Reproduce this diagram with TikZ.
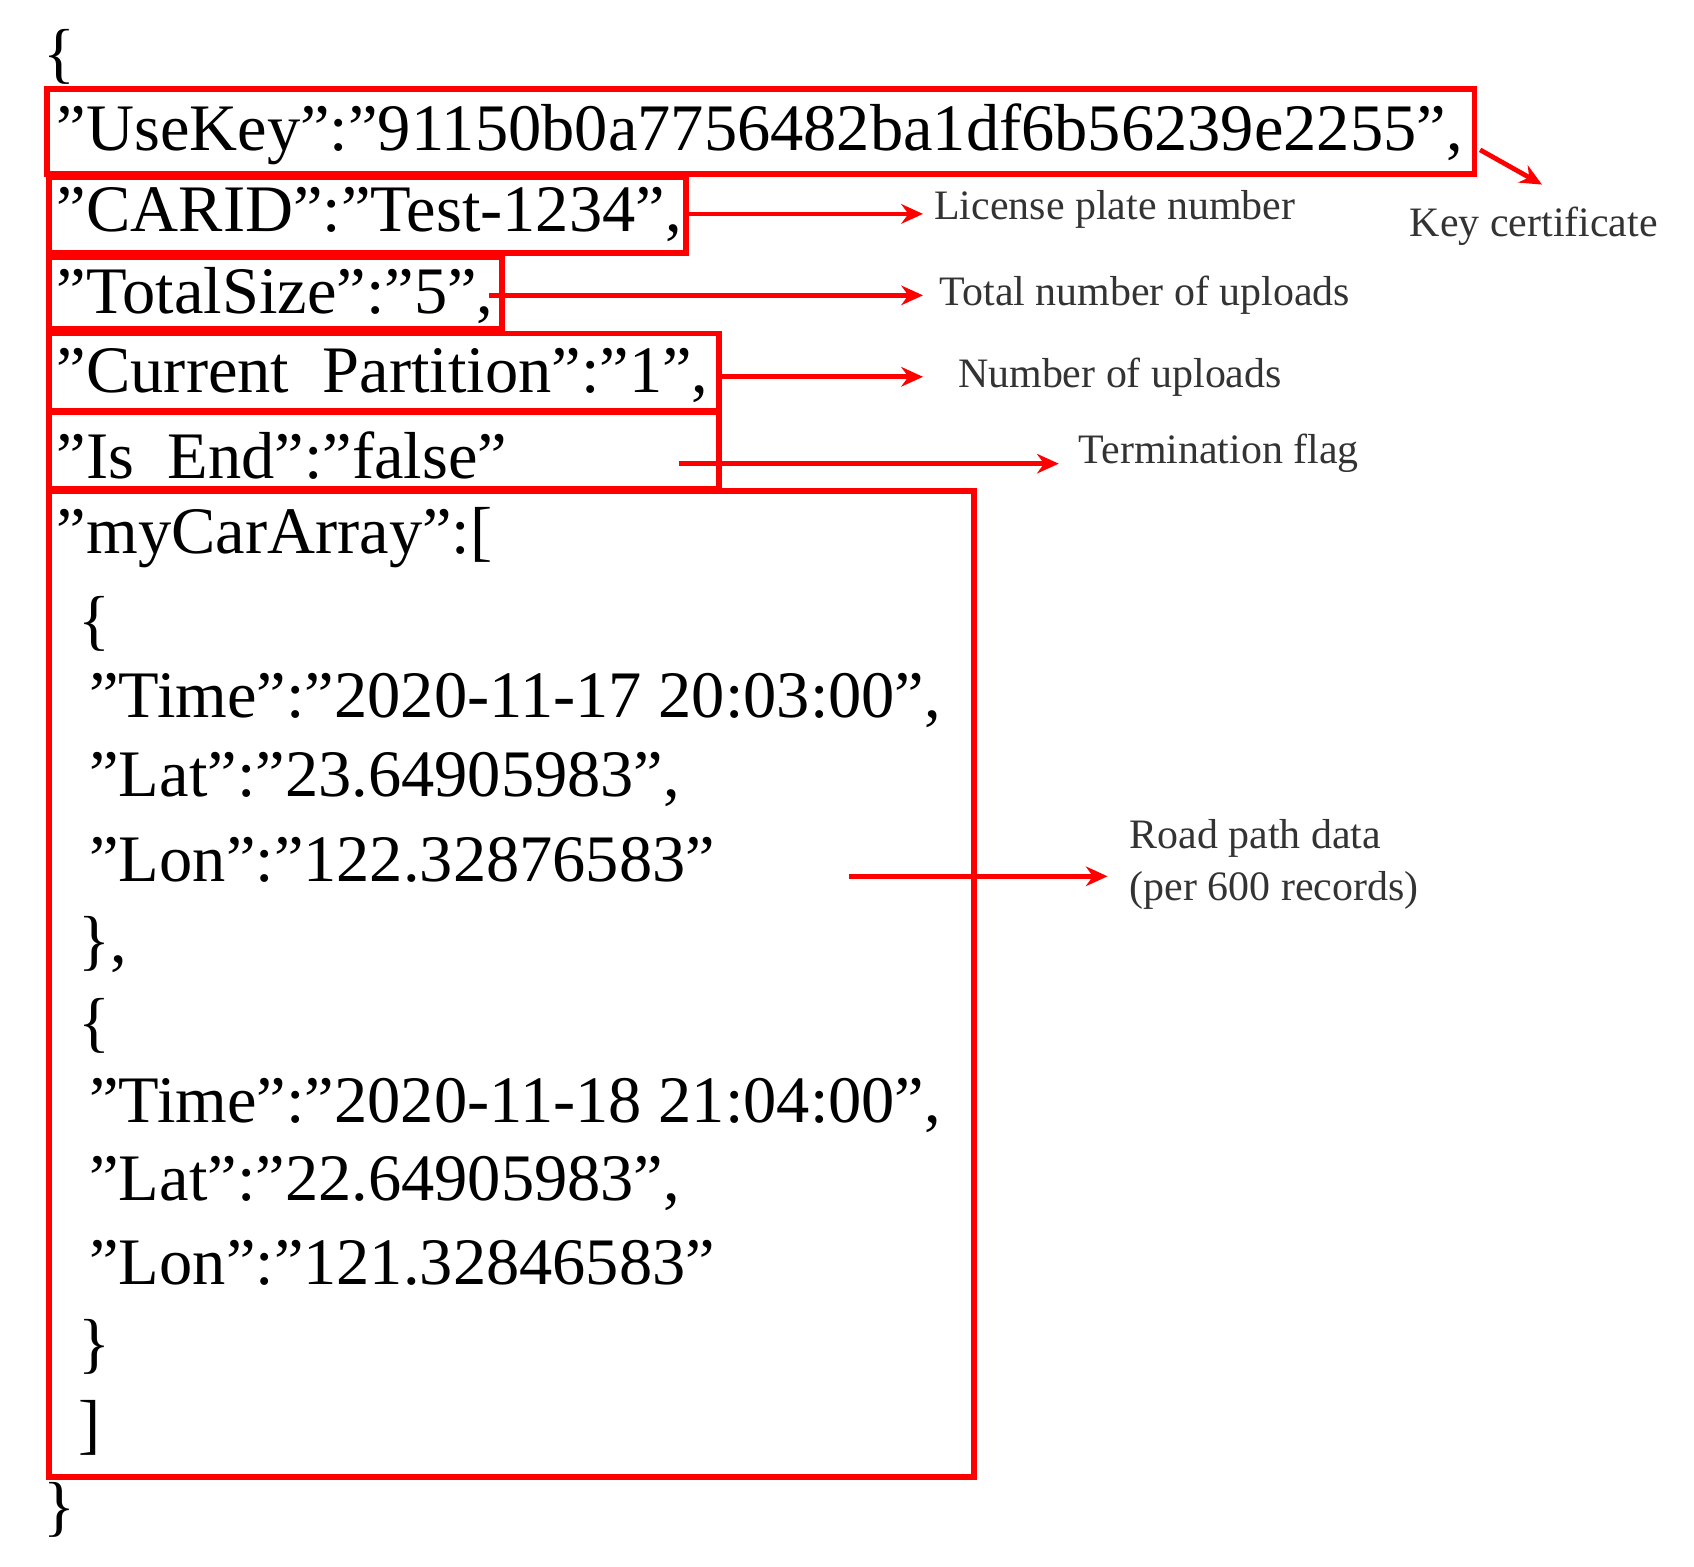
\documentclass[tikz,border=0pt]{standalone}
\usepackage{fontspec}
\setmainfont{Liberation Serif}
\usetikzlibrary{arrows.meta}
\newcommand\qq{\char34\relax}
\begin{document}
\begin{tikzpicture}[x=0.5pt,y=-0.5pt,
  code/.style={anchor=west,inner sep=0,font=\fontsize{30.6}{30}\selectfont},
  lab/.style={anchor=west,inner sep=0,font=\fontsize{19.3}{24}\selectfont,text=black!80,align=left},
  rbox/.style={draw=red,line width=2.6pt},
  arr/.style={draw=red,line width=2.2pt,-{Stealth[length=10pt,width=9pt]}}]
\useasboundingbox (0,0) rectangle (1560,1443);
\draw[rbox] (43,82) rectangle (1358,160);
\draw[rbox] (45,163) rectangle (632,233);
\draw[rbox] (45,237) rectangle (462,303);
\draw[rbox] (45,307) rectangle (662,378);
\draw[rbox] (45,380) rectangle (662,450);
\draw[rbox] (45,452) rectangle (897,1360);
\node[code] (ob) at (40,52) {\{};
\node[code] (l1) at (52,124) {\qq UseKey\qq:\qq 91150b0a7756482ba1df6b56239e2255\qq,};
\node[code] (l2) at (52,198) {\qq CARID\qq:\qq Test-1234\qq,};
\node[code] (l3) at (52,272) {\qq TotalSize\qq:\qq 5\qq,};
\node[code] (l4) at (52,346) {\qq Current\ \ Partition\qq:\qq 1\qq,};
\node[code] (l5) at (52,420) {\qq Is\ \ End\qq:\qq false\qq};
\node[code] (l6) at (52,495) {\qq myCarArray\qq:[};
\node[code] (l7) at (72,575) {\{};
\node[code] (l8) at (82,645) {\qq Time\qq:\qq 2020-11-17 20:03:00\qq,};
\node[code] (l9) at (82,718) {\qq Lat\qq:\qq 23.64905983\qq,};
\node[code] (l10) at (82,792) {\qq Lon\qq:\qq 122.32876583\qq};
\node[code] (l11) at (72,870) {\},};
\node[code] (l12) at (72,945) {\{};
\node[code] (l13) at (82,1018) {\qq Time\qq:\qq 2020-11-18 21:04:00\qq,};
\node[code] (l14) at (82,1090) {\qq Lat\qq:\qq 22.64905983\qq,};
\node[code] (l15) at (82,1163) {\qq Lon\qq:\qq 121.32846583\qq};
\node[code] (l16) at (72,1240) {\}};
\node[code] (l17) at (72,1315) {]};
\node[code] (cb) at (40,1390) {\}};
\node[lab] (k1) at (1298,208) {Key certificate};
\node[lab] (k2) at (860,193) {License plate number};
\node[lab] (k3) at (865,272) {Total number of uploads};
\node[lab] (k4) at (882,347) {Number of uploads};
\node[lab] (k5) at (993,417) {Termination flag};
\node[lab] (k6) at (1040,796) {Road path data\\(per 600 records)};
\coordinate (a1) at (1363,138); \coordinate (b1) at (1420,170);
\coordinate (a2) at (632,197); \coordinate (b2) at (850,197);
\coordinate (a3) at (450,272); \coordinate (b3) at (850,272);
\coordinate (a4) at (662,347); \coordinate (b4) at (850,347);
\coordinate (a5) at (625,427); \coordinate (b5) at (975,427);
\coordinate (a6) at (782,807); \coordinate (b6) at (1020,807);
\foreach \i in {1,...,6} \draw[arr] (a\i) -- (b\i);
\end{tikzpicture}
\end{document}
